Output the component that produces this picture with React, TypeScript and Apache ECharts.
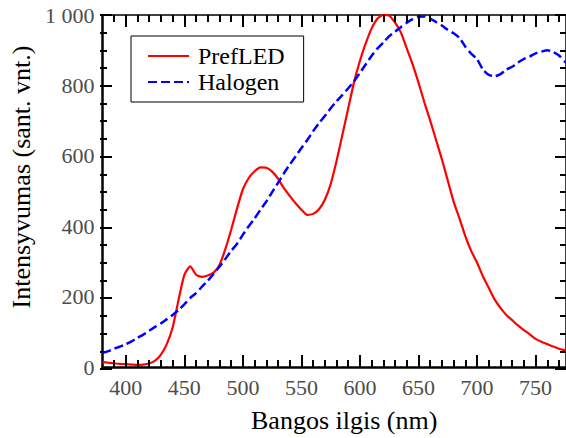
import React, { useEffect, useRef } from "react";
import * as echarts from "echarts";

const wavelengths = [
  380, 385, 390, 395, 400, 405, 410, 415, 420, 425, 430, 435, 440, 445, 450, 455, 460, 465, 470, 475,
  480, 485, 490, 495, 500, 505, 510, 515, 520, 525, 530, 535, 540, 545, 550, 555, 560, 565, 570, 575,
  580, 585, 590, 595, 600, 605, 610, 615, 620, 625, 630, 635, 640, 645, 650, 655, 660, 665, 670, 675,
  680, 685, 690, 695, 700, 705, 710, 715, 720, 725, 730, 735, 740, 745, 750, 755, 760, 765, 770, 775, 780,
];

const prefLED = [
  14, 12, 10, 9, 8, 7, 6, 7, 10, 18, 35, 65, 112, 190, 262, 286, 262, 256, 260, 268,
  290, 335, 390, 450, 505, 537, 556, 567, 566, 555, 535, 508, 486, 465, 447, 432, 435, 448, 475, 520,
  585, 660, 735, 810, 870, 920, 962, 990, 1000, 998, 978, 950, 905, 860, 808, 752, 700, 645, 590, 530,
  470, 422, 372, 330, 297, 258, 225, 192, 168, 148, 133, 118, 105, 93, 80, 72, 65, 58, 52, 48, 45,
];

const halogen = [
  40, 45, 52, 58, 65, 73, 83, 92, 103, 114, 124, 136, 148, 162, 178, 196, 210, 228, 245, 265,
  285, 307, 330, 350, 376, 400, 422, 447, 470, 497, 523, 550, 575, 598, 622, 645, 670, 693, 713, 735,
  755, 773, 792, 812, 836, 860, 884, 905, 922, 940, 953, 966, 978, 988, 995, 996, 990, 980, 970, 958,
  948, 935, 910, 890, 875, 845, 830, 826, 832, 845, 853, 865, 875, 882, 891, 896, 900, 895, 885, 868, 855,
];

const xMajorTicks = [400, 450, 500, 550, 600, 650, 700, 750];
const xMinorTicks = [
  390, 410, 420, 430, 440, 460, 470, 480, 490, 510, 520, 530, 540, 560, 570, 580, 590,
  610, 620, 630, 640, 660, 670, 680, 690, 710, 720, 730, 740, 760, 770,
];
const yTickLabels: Record<number, string> = {
  0: "0",
  200: "200",
  400: "400",
  600: "600",
  800: "800",
  1000: "1 000",
};

const seriesNames = ["PrefLED", "Halogen"];
const xTitle = "Bangos ilgis (nm)";
const yTitle = "Intensyvumas (sant. vnt.)";

const FONT = "'Liberation Serif', 'DejaVu Serif', serif";
const X_MIN = 380;
const X_MAX = 776;
const Y_MIN = 0;
const Y_MAX = 1000;
const Y_MAJOR = 200;
const Y_MINOR = 50;

// plot box
const L = 100;
const T = 15;
const W = 467;
const H = 354;
const R = L + W;
const MAJOR_LEN = 12;
const MINOR_LEN = 7;

export default function App() {
  const ref = useRef<HTMLDivElement>(null);

  useEffect(() => {
    if (!ref.current) return;
    const chart = echarts.init(ref.current, null, { renderer: "svg" });

    const tickLine = { show: true, lineStyle: { color: "#000", width: 2 } };
    const off = { axisLine: { show: false }, axisTick: { show: false }, axisLabel: { show: false } };

    const grids: any[] = [{ left: L, top: T, width: W, height: H, containLabel: false }];
    const xAxes: any[] = [
      {
        type: "value",
        gridIndex: 0,
        min: X_MIN,
        max: X_MAX,
        position: "bottom",
        splitLine: { show: false },
        axisLine: { show: true, onZero: false, lineStyle: { color: "#000", width: 2.5 } },
        axisTick: { show: false, customValues: xMajorTicks },
        axisLabel: { show: true, customValues: xMajorTicks, margin: 9, fontFamily: FONT, fontSize: 22, color: "#4d4d4d" },
        name: xTitle,
        nameLocation: "middle",
        nameGap: 40,
        nameTextStyle: { fontFamily: FONT, fontSize: 26, color: "#000", padding: [0, 0, 0, 20] },
      },
      {
        type: "value",
        gridIndex: 0,
        min: X_MIN,
        max: X_MAX,
        position: "top",
        splitLine: { show: false },
        axisTick: { show: false },
        axisLabel: { show: false },
        axisLine: { show: true, onZero: false, lineStyle: { color: "#000", width: 1.5 } },
      },
    ];
    const yAxes: any[] = [
      {
        type: "value",
        gridIndex: 0,
        min: Y_MIN,
        max: Y_MAX,
        interval: Y_MAJOR,
        position: "left",
        splitLine: { show: false },
        axisLine: { show: true, onZero: false, lineStyle: { color: "#000", width: 2.5 } },
        axisTick: { show: false },
        axisLabel: {
          margin: 8,
          fontFamily: FONT,
          fontSize: 22,
          color: "#4d4d4d",
          formatter: (v: number) => yTickLabels[v] ?? String(v),
        },
        name: yTitle,
        nameLocation: "middle",
        nameGap: 60,
        nameTextStyle: { fontFamily: FONT, fontSize: 26, color: "#000", padding: [0, 0, 0, 28] },
      },
      {
        type: "value",
        gridIndex: 0,
        min: Y_MIN,
        max: Y_MAX,
        position: "right",
        splitLine: { show: false },
        axisTick: { show: false },
        axisLabel: { show: false },
        axisLine: { show: true, onZero: false, lineStyle: { color: "#000", width: 1.5 } },
      },
    ];

    // y-axis inward ticks as short split lines of narrow grids along the left and right sides
    const addYStrip = (left: number, width: number, interval: number) => {
      const gi = grids.length;
      grids.push({ left, top: T, width, height: H, containLabel: false });
      yAxes.push({ type: "value", gridIndex: gi, min: Y_MIN, max: Y_MAX, interval, splitLine: tickLine, ...off });
      xAxes.push({ type: "value", gridIndex: gi, min: 0, max: 1, splitLine: { show: false }, ...off });
    };
    addYStrip(L, MAJOR_LEN, Y_MAJOR);
    addYStrip(L, MINOR_LEN, Y_MINOR);
    addYStrip(R - MAJOR_LEN, MAJOR_LEN, Y_MAJOR);
    addYStrip(R - MINOR_LEN, MINOR_LEN, Y_MINOR);

    // x-axis inward ticks (bottom and top) as markLine segments in data coordinates
    const unitsPerPx = (Y_MAX - Y_MIN) / H;
    const segs = (values: number[], len: number) => {
      const d = len * unitsPerPx;
      const out: any[] = [];
      values.forEach((v) => {
        out.push([{ coord: [v, Y_MIN] }, { coord: [v, Y_MIN + d] }]);
        out.push([{ coord: [v, Y_MAX] }, { coord: [v, Y_MAX - d] }]);
      });
      return out;
    };

    chart.setOption({
      animation: false,
      backgroundColor: "#fff",
      grid: grids,
      xAxis: xAxes,
      yAxis: yAxes,
      legend: {
        left: 131,
        top: 36,
        orient: "vertical",
        padding: [8, 19, 8, 16],
        itemGap: 2,
        itemWidth: 41,
        itemHeight: 14,
        borderColor: "#000",
        borderWidth: 1,
        backgroundColor: "#fff",
        itemStyle: { opacity: 0 },
        textStyle: { fontFamily: FONT, fontSize: 24, color: "#000", padding: [0, 0, 0, 4] },
        data: seriesNames,
        z: 10,
      },
      series: [
        {
          name: seriesNames[0],
          type: "line",
          xAxisIndex: 0,
          yAxisIndex: 0,
          showSymbol: false,
          symbol: "none",
          smooth: 0.2,
          lineStyle: { color: "#ff0000", width: 2.2 },
          itemStyle: { color: "#ff0000" },
          data: wavelengths.map((w, i) => [w, prefLED[i]]),
        },
        {
          name: seriesNames[1],
          type: "line",
          xAxisIndex: 0,
          yAxisIndex: 0,
          showSymbol: false,
          symbol: "none",
          smooth: 0.2,
          lineStyle: { color: "#0000ff", width: 2.5, type: [9, 4] },
          itemStyle: { color: "#0000ff" },
          data: wavelengths.map((w, i) => [w, halogen[i]]),
        },
        {
          name: "ticks",
          type: "line",
          xAxisIndex: 0,
          yAxisIndex: 0,
          silent: true,
          showSymbol: false,
          symbol: "none",
          lineStyle: { opacity: 0 },
          data: [[X_MIN, Y_MIN], [X_MAX, Y_MIN]],
          markLine: {
            silent: true,
            symbol: ["none", "none"],
            label: { show: false },
            emphasis: { disabled: true },
            lineStyle: { color: "#000", width: 2, type: "solid", opacity: 1 },
            data: [...segs(xMajorTicks, MAJOR_LEN), ...segs(xMinorTicks, MINOR_LEN)],
          },
        },
      ],
    });

    return () => chart.dispose();
  }, []);

  return (
    <div
      ref={ref}
      style={{ position: "fixed", left: 0, top: 0, width: 566, height: 438, background: "#fff" }}
    />
  );
}
